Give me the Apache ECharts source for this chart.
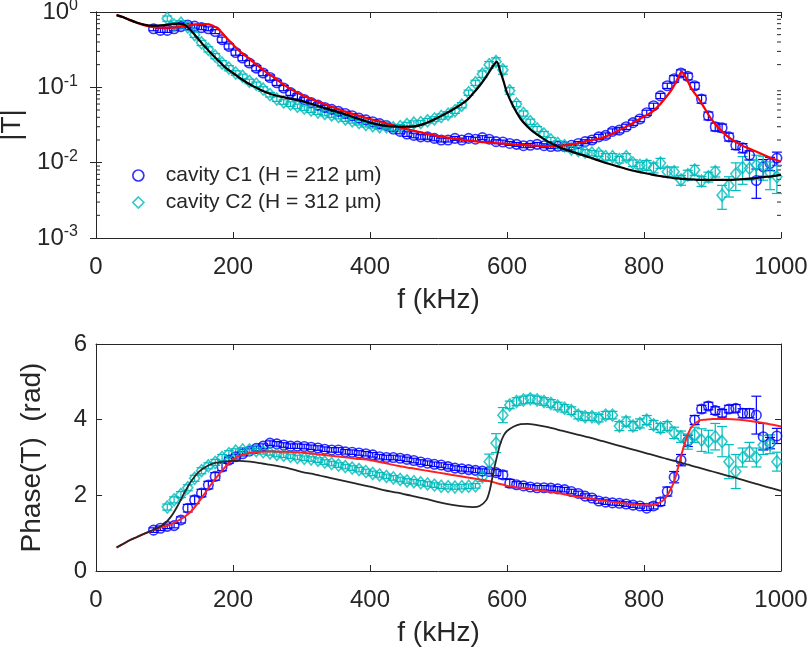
<!DOCTYPE html>
<html>
<head>
<meta charset="utf-8">
<script src="https://cdn.jsdelivr.net/npm/echarts@6/dist/echarts.min.js"></script>
<style>html,body{margin:0;padding:0;background:#fff}#c{width:808px;height:651px}</style>
</head>
<body>
<div id="c"></div>
<script>
// ---------- data ----------
const xTicks = [0, 200, 400, 600, 800, 1000];
const phaseTicks = [0, 2, 4, 6];
const legendNames = ['cavity C1 (H = 212 \u00b5m)', 'cavity C2 (H = 312 \u00b5m)'];

// cavity C1 measured points (kHz)
const c1Freq = [84,94,104,114,124,134,144,154,164,174,184,194,204,214,224,234,244,254,264,274,284,294,304,314,324,334,344,354,364,374,384,394,404,414,424,434,444,454,464,474,484,494,504,514,524,534,544,554,564,574,584,594,604,614,624,634,644,654,664,674,684,694,704,714,724,734,744,754,764,774,784,794,804,814,824,834,844,854,864,874,884,894,904,914,924,934,944,954,964,974,984,994];
const c1Mag = [0.60,0.57,0.57,0.60,0.64,0.67,0.65,0.62,0.60,0.55,0.43,0.35,0.29,0.245,0.21,0.18,0.155,0.135,0.115,0.098,0.085,0.076,0.069,0.063,0.058,0.054,0.051,0.048,0.045,0.042,0.039,0.037,0.035,0.033,0.031,0.028,0.026,0.024,0.023,0.022,0.022,0.021,0.020,0.020,0.021,0.020,0.021,0.0205,0.0215,0.0205,0.019,0.0188,0.018,0.0175,0.0168,0.017,0.0175,0.0168,0.0164,0.0165,0.0164,0.017,0.018,0.019,0.020,0.022,0.023,0.026,0.027,0.030,0.034,0.038,0.046,0.057,0.077,0.105,0.13,0.155,0.14,0.105,0.07,0.042,0.030,0.029,0.022,0.017,0.0157,0.0126,0.0058,0.0088,0.0098,0.0115];
const c1MagErrPct = [6,6,6,6,6,6,6,6,6,6, 8,8,8,8,8,8,8,8,8,8,8,8, 7,7,7,7,7,7,7,7,7,7,7,7,7,7,7,7,7,7,7,7, 6,6,6,6,6,6,6,6,6,6,6,6,6,6,6,6,6,6,6,6,6,6, 8,8,8,8,8,8,8,8,8,8,8,8, 10,10,10,10,12,12, 12,12,12,12,14,14,42,25,20,20];
const c1Phase = [1.08,1.13,1.18,1.2,1.35,1.66,1.88,2.06,2.27,2.5,2.75,2.93,3.02,3.1,3.17,3.24,3.3,3.38,3.36,3.33,3.3,3.3,3.29,3.27,3.25,3.22,3.2,3.2,3.15,3.14,3.12,3.1,3.07,3.02,3.0,3.0,2.98,2.95,2.92,2.88,2.85,2.82,2.8,2.76,2.72,2.7,2.68,2.66,2.64,2.63,2.6,2.54,2.32,2.28,2.25,2.22,2.2,2.2,2.19,2.17,2.15,2.1,2.05,1.98,1.93,1.85,1.82,1.8,1.79,1.77,1.74,1.72,1.66,1.72,1.83,2.1,2.48,2.93,3.44,3.99,4.28,4.36,4.24,4.17,4.28,4.3,4.17,4.17,4.12,3.55,3.38,3.57];
const c1PhaseErr = [0.06,0.06,0.06,0.06,0.08,0.1,0.1,0.1,0.1,0.1, 0.1,0.08,0.06,0.06,0.06,0.06,0.06,0.06,0.06,0.06,0.06,0.06, 0.06,0.06,0.06,0.06,0.06,0.06,0.06,0.06,0.06,0.06,0.06,0.06,0.06,0.06,0.06,0.06,0.06,0.06,0.06,0.06, 0.06,0.06,0.06,0.06,0.06,0.06,0.06,0.06,0.08,0.1,0.1,0.08,0.06,0.06,0.06,0.06,0.06,0.06,0.06,0.06,0.06,0.06, 0.06,0.06,0.06,0.06,0.06,0.06,0.06,0.06,0.06,0.08,0.1,0.12, 0.15,0.15,0.15,0.12,0.1,0.1, 0.1,0.1,0.1,0.1,0.12,0.12,0.5,0.35,0.15,0.2];

// cavity C2 measured points (kHz)
const c2Freq = [104,114,124,134,144,154,164,174,184,194,204,214,224,234,244,254,264,274,284,294,304,314,324,334,344,354,364,374,384,394,404,414,424,434,444,454,464,474,484,494,504,514,524,534,544,554,564,574,584,594,604,614,624,634,644,654,664,674,684,694,704,714,724,734,744,754,764,774,784,794,804,814,824,834,844,854,864,874,884,894,904,914,924,934,944,954,964,974,984,994];
const c2Mag = [0.82,0.67,0.71,0.63,0.50,0.39,0.32,0.26,0.21,0.18,0.155,0.14,0.12,0.11,0.095,0.08,0.07,0.064,0.06,0.056,0.053,0.05,0.047,0.045,0.043,0.041,0.038,0.036,0.034,0.032,0.031,0.030,0.030,0.029,0.030,0.032,0.0335,0.034,0.036,0.038,0.041,0.044,0.049,0.058,0.085,0.115,0.15,0.2,0.22,0.17,0.09,0.06,0.045,0.035,0.028,0.024,0.020,0.018,0.0168,0.0152,0.0145,0.0138,0.0134,0.0132,0.012,0.012,0.011,0.012,0.0099,0.0092,0.0093,0.0086,0.0099,0.0076,0.0076,0.0059,0.0069,0.0080,0.0057,0.0065,0.0076,0.0037,0.005,0.0071,0.0086,0.0084,0.0093,0.009,0.0073,0.0065];
const c2MagErrPct = [8,8,8,8,8,8,8,8,8,8, 7,7,7,7,7,7,7,7,7,7,7,7,7,7,7,7,7,7,7,7,7,7,7,7,7,7,7,7,7,7, 8,8,8,8,8,8,10,10,12,12, 10,8,8,8,8,8,8,8,8,8,8,8,8,8,10,10,10,10,10,10, 15,15,15,15,15,15,15,15,15,15,15, 35,30,40,40,30,35,35,40,40];
const c2Phase = [1.69,1.88,2.02,2.2,2.45,2.65,2.78,2.87,3.0,3.1,3.17,3.2,3.2,3.18,3.15,3.12,3.08,3.06,3.03,3.0,2.98,2.96,2.93,2.88,2.84,2.8,2.76,2.72,2.68,2.63,2.58,2.54,2.5,2.46,2.42,2.38,2.36,2.33,2.3,2.27,2.24,2.23,2.22,2.23,2.24,2.25,2.49,2.89,3.38,4.12,4.39,4.48,4.52,4.55,4.52,4.48,4.43,4.36,4.3,4.24,4.12,4.08,4.08,4.04,4.12,4.12,3.83,3.95,3.83,3.9,3.99,3.86,3.78,3.83,3.65,3.55,3.42,3.6,3.46,3.42,3.55,3.42,2.89,2.63,3.0,3.15,3.0,3.33,3.35,2.89];
const c2PhaseErr = [0.08,0.08,0.08,0.08,0.08,0.08,0.08,0.08,0.08,0.08, 0.06,0.06,0.06,0.06,0.06,0.06,0.06,0.06,0.06,0.06,0.06,0.06,0.06,0.06,0.06,0.06,0.06,0.06,0.06,0.06,0.06,0.06,0.06,0.06,0.06,0.06,0.06,0.06,0.06,0.06, 0.06,0.06,0.06,0.06,0.06,0.06,0.12,0.2,0.25,0.2, 0.1,0.1,0.1,0.1,0.1,0.1,0.1,0.1,0.1,0.1,0.1,0.1,0.1,0.1,0.1,0.1,0.12,0.12,0.12,0.12, 0.12,0.12,0.12,0.12,0.15,0.15,0.2,0.2,0.3,0.3,0.35, 0.4,0.45,0.45,0.25,0.25,0.25,0.25,0.25,0.25];

// model curves (kHz)
const modelFreq = [30,40,50,60,70,80,90,100,110,120,130,140,150,160,170,180,190,200,210,220,230,240,250,260,280,300,320,340,360,380,400,420,440,460,480,500,520,540,550,560,570,575,580,585,590,595,600,610,620,630,640,660,680,700,720,740,760,780,800,810,820,830,840,845,850,855,860,865,870,880,890,900,920,940,960,980,1000];
const redMag = [0.91,0.85,0.78,0.72,0.67,0.64,0.62,0.62,0.62,0.63,0.65,0.67,0.69,0.69,0.66,0.58,0.46,0.37,0.30,0.255,0.215,0.182,0.155,0.135,0.100,0.080,0.067,0.057,0.049,0.043,0.038,0.034,0.030,0.027,0.0245,0.0225,0.021,0.0198,0.0193,0.0189,0.0186,0.0184,0.0183,0.0181,0.018,0.0179,0.0178,0.0175,0.0172,0.017,0.0168,0.0166,0.0168,0.0178,0.0196,0.0215,0.026,0.032,0.041,0.046,0.055,0.07,0.092,0.11,0.135,0.162,0.14,0.115,0.094,0.07,0.05,0.036,0.023,0.0175,0.0145,0.0121,0.0103];
const blackMag = [0.91,0.85,0.78,0.72,0.68,0.66,0.66,0.67,0.69,0.70,0.67,0.55,0.43,0.34,0.27,0.22,0.18,0.155,0.133,0.116,0.103,0.093,0.085,0.079,0.072,0.066,0.058,0.051,0.045,0.039,0.034,0.031,0.030,0.030,0.033,0.040,0.050,0.066,0.082,0.105,0.14,0.165,0.195,0.22,0.165,0.12,0.085,0.054,0.038,0.030,0.025,0.019,0.0155,0.0135,0.0118,0.0102,0.009,0.008,0.0073,0.007,0.0067,0.0065,0.0063,0.0062,0.0062,0.0061,0.0061,0.006,0.006,0.0059,0.0059,0.0059,0.0059,0.006,0.0062,0.0065,0.0069];
const redPhase = [0.62,0.72,0.82,0.9,0.98,1.05,1.12,1.18,1.24,1.33,1.44,1.6,1.83,2.08,2.34,2.57,2.78,2.95,3.05,3.1,3.13,3.15,3.16,3.16,3.15,3.13,3.09,3.05,3.01,2.97,2.93,2.86,2.78,2.72,2.66,2.6,2.54,2.48,2.45,2.42,2.39,2.37,2.35,2.32,2.3,2.28,2.25,2.22,2.2,2.18,2.15,2.1,2.04,1.97,1.92,1.86,1.81,1.77,1.74,1.74,1.78,1.9,2.2,2.42,2.75,3.1,3.4,3.65,3.82,3.97,4.0,4.02,4.02,4.0,3.95,3.89,3.82];
const blackPhase = [0.62,0.72,0.82,0.9,0.98,1.06,1.14,1.25,1.45,1.75,2.1,2.4,2.62,2.75,2.84,2.88,2.9,2.91,2.91,2.9,2.88,2.85,2.82,2.79,2.72,2.62,2.55,2.47,2.39,2.31,2.23,2.14,2.07,1.99,1.91,1.82,1.75,1.7,1.69,1.72,1.88,2.15,2.6,3.0,3.35,3.58,3.7,3.82,3.88,3.89,3.87,3.8,3.71,3.62,3.53,3.43,3.33,3.23,3.13,3.08,3.03,2.98,2.93,2.91,2.88,2.86,2.83,2.81,2.78,2.73,2.68,2.63,2.53,2.43,2.32,2.22,2.12];

// ---------- chart ----------
const FONT = '"Liberation Sans", Arial, sans-serif';
const AX = '#262626';
const BLUE = '#0000ff';
const CYAN = '#00bcbc';

const pairs = (xs, ys) => xs.map((x, i) => [x, ys[i]]);
const relBars = (xs, ys, pct) => xs.map((x, i) => [x, ys[i] * (1 - pct[i] / 100), ys[i] * (1 + pct[i] / 100)]);
const absBars = (xs, ys, e) => xs.map((x, i) => [x, ys[i] - e[i], ys[i] + e[i]]);

function errRender(color) {
  return function (params, api) {
    const x = api.value(0), lo = api.value(1), hi = api.value(2);
    const a = api.coord([x, lo]), b = api.coord([x, hi]);
    const w = 5;
    const st = { stroke: color, lineWidth: 1.2 };
    return { type: 'group', children: [
      { type: 'line', shape: { x1: a[0], y1: a[1], x2: b[0], y2: b[1] }, style: st },
      { type: 'line', shape: { x1: a[0] - w, y1: a[1], x2: a[0] + w, y2: a[1] }, style: st },
      { type: 'line', shape: { x1: b[0] - w, y1: b[1], x2: b[0] + w, y2: b[1] }, style: st }
    ]};
  };
}

// minor tick positions on the log axis (decoration only)
const minorVals = [];
[0.001, 0.01, 0.1].forEach(d => { for (let k = 2; k <= 9; k++) minorVals.push(+(d * k).toPrecision(3)); });

const tickStyle = { inside: true, length: 6, lineStyle: { color: AX, width: 1 } };
const lineStyle = { color: AX, width: 1 };
const labelStyle = { color: AX, fontFamily: FONT, fontSize: 24 };
const nameStyle = { color: AX, fontFamily: FONT, fontSize: 28 };

function xAx(grid, top) {
  return {
    type: 'value', gridIndex: grid, min: 0, max: 1000, interval: 200,
    position: top ? 'top' : 'bottom',
    name: top ? '' : 'f (kHz)', nameLocation: 'middle', nameGap: 48, nameTextStyle: nameStyle,
    axisLine: { show: true, onZero: false, lineStyle },
    axisTick: tickStyle,
    axisLabel: top ? { show: false } : Object.assign({ margin: 17, formatter: v => xTicks.includes(v) ? String(v) : '' }, labelStyle),
    splitLine: { show: false }
  };
}

const mkLegendItem = (name, icon, color) => ({
  name, icon, itemStyle: { color: 'rgba(0,0,0,0)', borderColor: color, borderWidth: 1.7 }
});

const option = {
  animation: false,
  backgroundColor: '#ffffff',
  grid: [
    { left: 96, top: 12, width: 685, height: 226, outerBoundsMode: 'none', containLabel: false },
    { left: 96, top: 344, width: 685, height: 227, outerBoundsMode: 'none', containLabel: false }
  ],
  xAxis: [xAx(0, false), xAx(0, true), xAx(1, false), xAx(1, true)],
  yAxis: [
    { type: 'log', logBase: 10, gridIndex: 0, min: 0.001, max: 1, position: 'left',
      name: '|T|', nameLocation: 'middle', nameGap: 66, nameRotate: 90, nameTextStyle: nameStyle,
      axisLine: { show: true, lineStyle }, axisTick: tickStyle, splitLine: { show: false },
      axisLabel: Object.assign({ margin: 18,
        formatter: v => '10{sup|' + Math.round(Math.log10(v)) + '}',
        rich: { sup: { fontSize: 16, fontFamily: FONT, color: AX, verticalAlign: 'bottom', padding: [0, 0, 12, 0] } }
      }, labelStyle) },
    { type: 'log', logBase: 10, gridIndex: 0, min: 0.001, max: 1, position: 'right',
      axisLine: { show: true, lineStyle }, axisTick: tickStyle, axisLabel: { show: false }, splitLine: { show: false } },
    { type: 'value', gridIndex: 1, min: 0, max: 6, interval: 2, position: 'left',
      name: 'Phase(T)  (rad)', nameLocation: 'middle', nameGap: 50, nameRotate: 90, nameTextStyle: nameStyle,
      axisLine: { show: true, onZero: false, lineStyle }, axisTick: tickStyle, splitLine: { show: false },
      axisLabel: Object.assign({ margin: 9, formatter: v => phaseTicks.includes(v) ? String(v) : '' }, labelStyle) },
    { type: 'value', gridIndex: 1, min: 0, max: 6, interval: 2, position: 'right',
      axisLine: { show: true, onZero: false, lineStyle }, axisTick: tickStyle, axisLabel: { show: false }, splitLine: { show: false } }
  ],
  legend: {
    left: 127, top: 160, orient: 'vertical', itemGap: 6, itemWidth: 11, itemHeight: 11,
    textStyle: { color: AX, fontFamily: FONT, fontSize: 21, padding: [0, 0, 0, 17] },
    data: [mkLegendItem(legendNames[0], 'circle', BLUE), mkLegendItem(legendNames[1], 'diamond', CYAN)]
  },
  series: [
    // minor ticks on log axis
    { type: 'custom', xAxisIndex: 0, yAxisIndex: 0, silent: true, z: 1,
      data: minorVals.map(v => [0, v]),
      renderItem: function (params, api) {
        const v = api.value(1);
        const l = api.coord([0, v]), r = api.coord([1000, v]);
        const st = { stroke: AX, lineWidth: 1 };
        return { type: 'group', children: [
          { type: 'line', shape: { x1: l[0], y1: l[1], x2: l[0] + 4, y2: l[1] }, style: st },
          { type: 'line', shape: { x1: r[0], y1: r[1], x2: r[0] - 4, y2: r[1] }, style: st }
        ]};
      } },
    // top panel
    { type: 'scatter', name: legendNames[0], xAxisIndex: 0, yAxisIndex: 0, z: 3, symbol: 'circle', symbolSize: 9.5,
      itemStyle: { color: 'rgba(0,0,0,0)', borderColor: BLUE, borderWidth: 1.6 }, data: pairs(c1Freq, c1Mag) },
    { type: 'custom', name: legendNames[0], xAxisIndex: 0, yAxisIndex: 0, z: 2, silent: true,
      data: relBars(c1Freq, c1Mag, c1MagErrPct), renderItem: errRender(BLUE), itemStyle: { color: BLUE } },
    { type: 'scatter', name: legendNames[1], xAxisIndex: 0, yAxisIndex: 0, z: 3, symbol: 'diamond', symbolSize: [10, 12],
      itemStyle: { color: 'rgba(0,0,0,0)', borderColor: CYAN, borderWidth: 1.6 }, data: pairs(c2Freq, c2Mag) },
    { type: 'custom', name: legendNames[1], xAxisIndex: 0, yAxisIndex: 0, z: 2, silent: true,
      data: relBars(c2Freq, c2Mag, c2MagErrPct), renderItem: errRender(CYAN), itemStyle: { color: CYAN } },
    { type: 'line', xAxisIndex: 0, yAxisIndex: 0, z: 5, symbol: 'none', smooth: 0.3,
      lineStyle: { color: '#ff0000', width: 2.2 }, data: pairs(modelFreq, redMag) },
    { type: 'line', xAxisIndex: 0, yAxisIndex: 0, z: 6, symbol: 'none', smooth: 0.3,
      lineStyle: { color: '#000000', width: 2.2 }, data: pairs(modelFreq, blackMag) },
    // bottom panel
    { type: 'scatter', name: legendNames[0], xAxisIndex: 2, yAxisIndex: 2, z: 3, symbol: 'circle', symbolSize: 9.5,
      itemStyle: { color: 'rgba(0,0,0,0)', borderColor: BLUE, borderWidth: 1.6 }, data: pairs(c1Freq, c1Phase) },
    { type: 'custom', name: legendNames[0], xAxisIndex: 2, yAxisIndex: 2, z: 2, silent: true,
      data: absBars(c1Freq, c1Phase, c1PhaseErr), renderItem: errRender(BLUE), itemStyle: { color: BLUE } },
    { type: 'scatter', name: legendNames[1], xAxisIndex: 2, yAxisIndex: 2, z: 3, symbol: 'diamond', symbolSize: [10, 12],
      itemStyle: { color: 'rgba(0,0,0,0)', borderColor: CYAN, borderWidth: 1.6 }, data: pairs(c2Freq, c2Phase) },
    { type: 'custom', name: legendNames[1], xAxisIndex: 2, yAxisIndex: 2, z: 2, silent: true,
      data: absBars(c2Freq, c2Phase, c2PhaseErr), renderItem: errRender(CYAN), itemStyle: { color: CYAN } },
    { type: 'line', xAxisIndex: 2, yAxisIndex: 2, z: 5, symbol: 'none', smooth: 0.3,
      lineStyle: { color: '#ff2020', width: 2 }, data: pairs(modelFreq, redPhase) },
    { type: 'line', xAxisIndex: 2, yAxisIndex: 2, z: 6, symbol: 'none', smooth: 0.3,
      lineStyle: { color: '#262626', width: 1.8 }, data: pairs(modelFreq, blackPhase) }
  ]
};

const chart = echarts.init(document.getElementById('c'), null, { renderer: 'canvas' });
chart.setOption(option);
</script>
</body>
</html>
